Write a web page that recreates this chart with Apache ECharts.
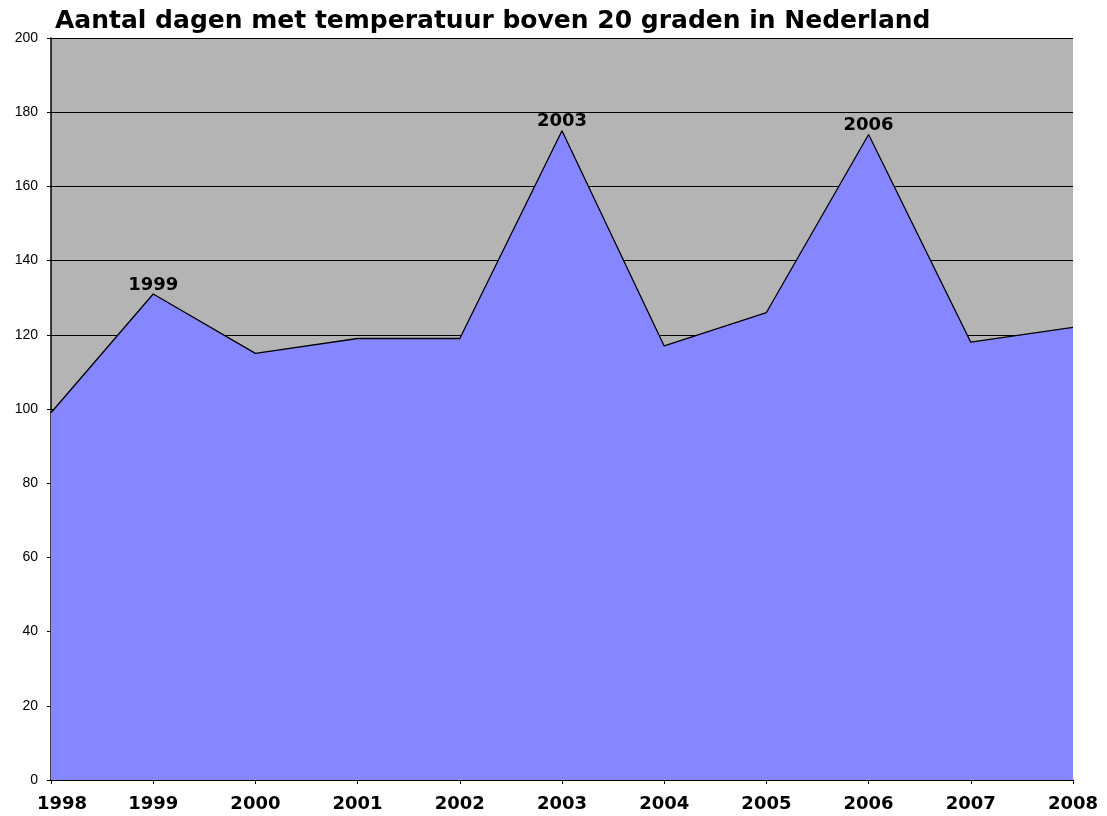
<!DOCTYPE html>
<html>
<head>
<meta charset="utf-8">
<script src="https://cdn.jsdelivr.net/npm/echarts@6/dist/echarts.min.js"></script>
<style>
html,body{margin:0;padding:0;background:#fff;}
#chart{width:1107px;height:816px;}
</style>
</head>
<body>
<div id="chart"></div>
<script>
const titleText = 'Aantal dagen met temperatuur boven 20 graden in Nederland';
const years = ['1998','1999','2000','2001','2002','2003','2004','2005','2006','2007','2008'];
const days = [99, 131, 115, 119, 119, 175, 117, 126, 174, 118, 122];
const labeledYears = ['1999','2003','2006'];

const chart = echarts.init(document.getElementById('chart'));
const seriesData = days.map((v, i) => ({
  value: v,
  label: { show: labeledYears.includes(years[i]) }
}));
const boldFont = { fontFamily: 'DejaVu Sans', fontWeight: 'bold', fontSize: 18, color: '#000' };

chart.setOption({
  animation: false,
  title: {
    text: titleText,
    left: 50, top: 4,
    textStyle: { fontFamily: 'DejaVu Sans', fontWeight: 'bold', fontSize: 25, color: '#000' }
  },
  grid: {
    left: 51, right: 34, top: 38, bottom: 36,
    show: true, backgroundColor: '#b4b4b4', borderWidth: 0
  },
  xAxis: {
    type: 'category',
    data: years,
    boundaryGap: false,
    axisLine: { lineStyle: { color: '#000', width: 1.5 } },
    axisTick: { show: true, alignWithLabel: true, length: 4, lineStyle: { color: '#000' } },
    axisLabel: Object.assign({
      margin: 15, showMinLabel: true, showMaxLabel: true, interval: 0,
      formatter: (v, i) => i === 0 ? '{first|' + v + '}' : v,
      rich: { first: Object.assign({ padding: [0, 0, 0, 22] }, boldFont) }
    }, boldFont),
    splitLine: { show: false }
  },
  yAxis: {
    type: 'value',
    min: 0, max: 200, interval: 20,
    axisLine: { show: true, lineStyle: { color: '#000', width: 1.5 } },
    axisTick: { show: true, length: 4, lineStyle: { color: '#000' } },
    axisLabel: { color: '#000', fontFamily: 'Liberation Sans', fontSize: 14, margin: 13 },
    splitLine: { show: true, lineStyle: { color: '#000', width: 1.2 } }
  },
  series: [{
    type: 'line',
    data: seriesData,
    symbol: 'circle',
    symbolSize: 0,
    showSymbol: true,
    showAllSymbol: true,
    lineStyle: { color: '#000', width: 1.3 },
    areaStyle: { color: '#8686ff', opacity: 1 },
    label: Object.assign({
      position: 'top', distance: 0,
      formatter: '{b}'
    }, boldFont),
    z: 3
  }]
});
</script>
</body>
</html>
